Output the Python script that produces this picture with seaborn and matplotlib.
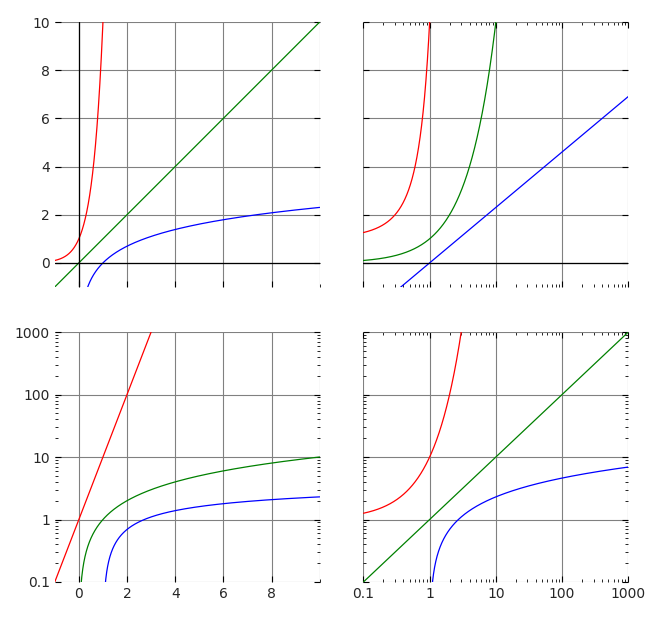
import numpy as np
import seaborn as sns
import matplotlib.pyplot as plt
from matplotlib.ticker import LogLocator, NullFormatter, FixedLocator

sns.set_theme(style="white")
plt.rcParams['font.family'] = ['DejaVu Sans']

# curves: y = 10^x (red), y = x (green), y = ln x (blue)
colors = ["red", "green", "blue"]
lin_x = np.linspace(-1, 10, 2000)
log_x = np.logspace(-1, 3, 2000)

def curves(x):
    with np.errstate(divide="ignore", invalid="ignore"):
        return [10.0 ** x, x, np.log(x)]

fig, axes = plt.subplots(2, 2, figsize=(6.6, 6.2), dpi=100,
                         gridspec_kw={"height_ratios": [265, 250]})
fig.subplots_adjust(left=0.083, right=0.952, top=0.9645, bottom=0.0613, hspace=0.175, wspace=0.165)

for (r, c), ax in np.ndenumerate(axes):
    x = log_x if c == 1 else lin_x
    for y, col in zip(curves(x), colors):
        y = np.where(np.isfinite(y), y, np.nan)
        if r == 1:
            y = np.where(y > 0, y, np.nan)
        sns.lineplot(x=x, y=y, color=col, lw=0.9, ax=ax, sort=False)
    if c == 1:
        ax.set_xscale("log")
        ax.set_xlim(0.1, 1000)
        ax.xaxis.set_major_locator(FixedLocator([0.1, 1, 10, 100, 1000]))
        ax.set_xticklabels(["0.1", "1", "10", "100", "1000"])
    else:
        ax.set_xlim(-1, 10)
        ax.set_xticks([0, 2, 4, 6, 8])
        ax.xaxis.set_minor_locator(FixedLocator([10]))
    if r == 1:
        ax.set_yscale("log")
        ax.set_ylim(0.1, 1000)
        ax.yaxis.set_major_locator(FixedLocator([0.1, 1, 10, 100, 1000]))
        ax.set_yticklabels(["0.1", "1", "10", "100", "1000"])
        ax.yaxis.set_minor_locator(LogLocator(subs=np.arange(2, 10)))
        ax.yaxis.set_minor_formatter(NullFormatter())
    else:
        ax.set_ylim(-1, 10)
        ax.set_yticks([0, 2, 4, 6, 8, 10])
    ax.grid(True, which="major", color="gray", lw=0.8)
    if c == 0:
        ax.grid(True, which="minor", axis="x", color="gray", lw=0.8)
    for s in ax.spines.values():
        s.set_visible(False)
    ax.tick_params(which="both", direction="in", left=True, right=True, top=(c == 1), bottom=True,
                   labelsize=10, length=4, width=0.8, color="black")
    ax.tick_params(which="minor", length=2, width=0.6)
    if r == 0:
        ax.axhline(0, color="black", lw=0.9)
        ax.set_xticklabels([])
        if c == 0:
            ax.axvline(0, color="black", lw=0.9)
    if c == 1:
        ax.set_yticklabels([])
    ax.set_xlabel("")
    ax.set_ylabel("")

fig.savefig("out.png")
